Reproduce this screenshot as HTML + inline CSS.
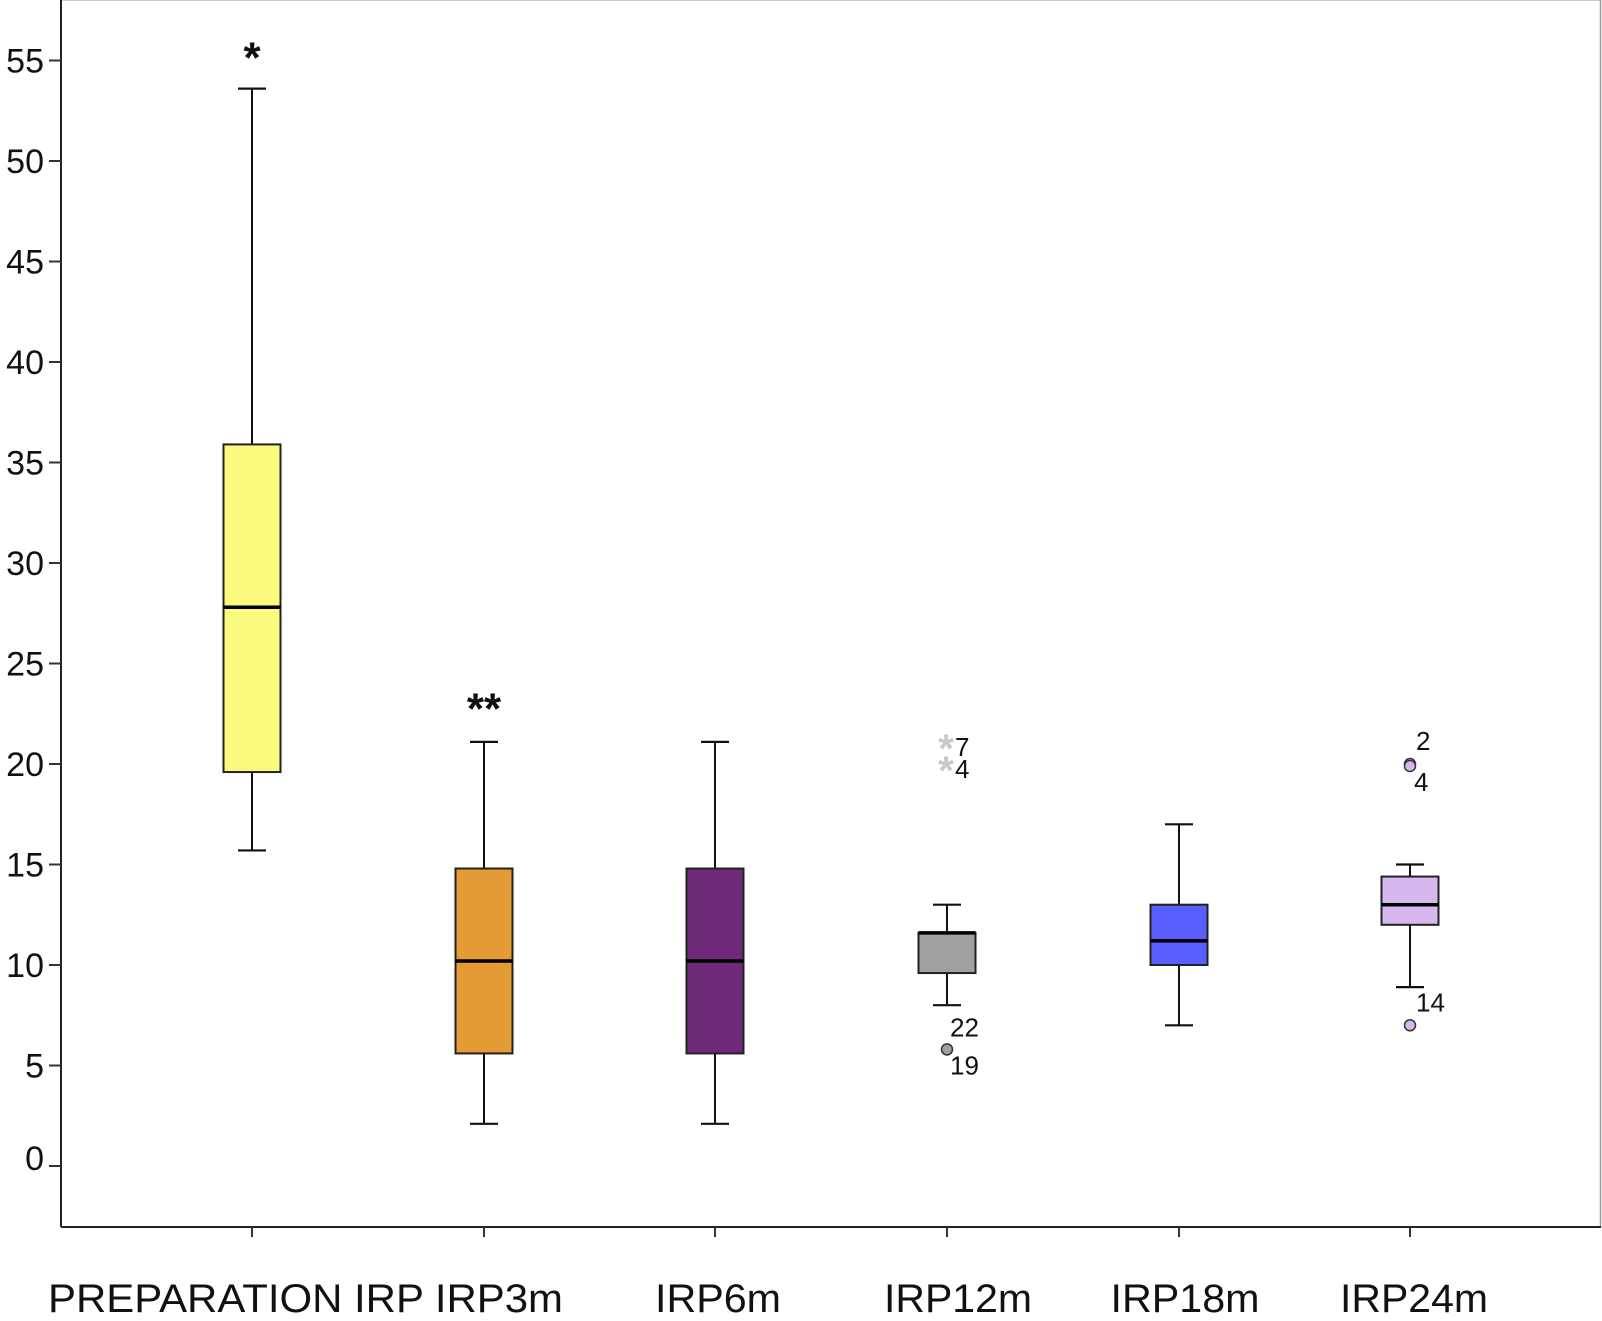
<!DOCTYPE html>
<html><head><meta charset="utf-8"><style>
html,body{margin:0;padding:0;background:#fff;}
svg{display:block;font-family:"Liberation Sans",Arial,sans-serif;}
</style></head><body>
<svg id="chart" width="1602" height="1321" viewBox="0 0 1602 1321" xmlns="http://www.w3.org/2000/svg">
<line x1="61" y1="0.5" x2="1601" y2="0.5" stroke="#ccc" stroke-width="1"/>
<line x1="1600.5" y1="0" x2="1600.5" y2="1227" stroke="#999" stroke-width="1.5"/>
<g id="plot"></g>
</svg>
<script>
const categories = ["PREPARATION IRP","IRP3m","IRP6m","IRP12m","IRP18m","IRP24m"];
const whiskerLow = [15.7, 2.1, 2.1, 8.0, 7.0, 8.9];
const q1Values = [19.6, 5.6, 5.6, 9.6, 10.0, 12.0];
const medianValues = [27.8, 10.2, 10.2, 11.6, 11.2, 13.0];
const q3Values = [35.9, 14.8, 14.8, 11.6, 13.0, 14.4];
const whiskerHigh = [53.6, 21.1, 21.1, 13.0, 17.0, 15.0];
const boxColors = ["#fbf97e","#e49a35","#6e2a78","#a0a0a0","#5a5efe","#d7b8ee"];
const yTicks = [0,5,10,15,20,25,30,35,40,45,50,55];
// outliers
const outlierCat = [3,3,3,5,5,5];
const outlierVal = [20.9,19.8,5.8,20.0,19.9,7.0];
const outlierType = ["star","star","circle","circle","circle","circle"];
const outlierLabel = ["7","4","22|19","2","4","14"];
// significance marks
const sigCat = [0,1];
const sigVal = [55.6,23.2];
const sigText = ["*","**"];

const NS="http://www.w3.org/2000/svg";
const g=document.getElementById('plot');
const X0=61, YB=1227, Y0=1166, PX=20.1;
const catX=[252,484,715,947,1179,1410];
const BW=57;
const y=v=>Y0-v*PX;
const x=i=>catX[i];
function el(tag,attrs,parent){const e=document.createElementNS(NS,tag);for(const k in attrs)e.setAttribute(k,attrs[k]);(parent||g).appendChild(e);return e;}

let a=el('line',{x1:X0,y1:0,x2:X0,y2:YB,stroke:'#222','stroke-width':2});


a=el('line',{x1:X0,y1:YB,x2:1601,y2:YB,stroke:'#222','stroke-width':2});



yTicks.forEach(t=>{
  const tk=el('line',{x1:X0-12,y1:y(t),x2:X0,y2:y(t),stroke:'#333','stroke-width':2});
  
  
  const tx=el('text',{x:X0-17,y:y(t)+(t===0?4:12),'text-anchor':'end','font-size':34,fill:'#111'});
  tx.textContent=t;
  
  
});

categories.forEach((c,i)=>{
  const tk=el('line',{x1:x(i),y1:YB,x2:x(i),y2:YB+10,stroke:'#333','stroke-width':2});
  
  
  const grp=el('g',{});
  
  
  const cx=x(i);
  el('line',{x1:cx,y1:y(whiskerHigh[i]),x2:cx,y2:y(q3Values[i]),stroke:'#111','stroke-width':2},grp);
  el('line',{x1:cx,y1:y(q1Values[i]),x2:cx,y2:y(whiskerLow[i]),stroke:'#111','stroke-width':2},grp);
  el('line',{x1:cx-14,y1:y(whiskerHigh[i]),x2:cx+14,y2:y(whiskerHigh[i]),stroke:'#111','stroke-width':2.2},grp);
  el('line',{x1:cx-14,y1:y(whiskerLow[i]),x2:cx+14,y2:y(whiskerLow[i]),stroke:'#111','stroke-width':2.2},grp);
  el('rect',{x:cx-BW/2,y:y(q3Values[i]),width:BW,height:y(q1Values[i])-y(q3Values[i]),fill:boxColors[i],stroke:'#222','stroke-width':2},grp);
  el('line',{x1:cx-BW/2,y1:y(medianValues[i]),x2:cx+BW/2,y2:y(medianValues[i]),stroke:'#000','stroke-width':3.5},grp);
});

const lab=el('text',{x:48,y:1312,'font-size':40,fill:'#111',textLength:515,lengthAdjust:'spacingAndGlyphs'});
lab.textContent="PREPARATION IRP IRP3m";


const labCenters=[718,958,1185,1414];
const labWidths=[126,148,149,148];
[2,3,4,5].forEach((i,k)=>{
  const t=el('text',{x:labCenters[k]-labWidths[k]/2,y:1312,'font-size':40,fill:'#111',textLength:labWidths[k],lengthAdjust:'spacingAndGlyphs'});
  t.textContent=categories[i];
  
  
});

outlierVal.forEach((v,k)=>{
  const cx=x(outlierCat[k]), cy=y(v);
  if(outlierType[k]==='star'){
    const s=el('text',{x:cx-1,y:cy+16,'text-anchor':'middle','font-size':40,'font-weight':'bold',fill:'#c8c8c8'});
    s.textContent='*';
    
    
    const l=el('text',{x:cx+8,y:cy+10,'font-size':26,fill:'#111'});
    l.textContent=outlierLabel[k];
    
    
  } else {
    const c=el('circle',{cx:cx,cy:cy,r:5.5,fill:boxColors[outlierCat[k]],stroke:'#333','stroke-width':1.5});
    
    
    const parts=outlierLabel[k].split('|');
    if(parts.length===2){
      const a1=el('text',{x:cx+3,y:cy-13,'font-size':26,fill:'#111'});a1.textContent=parts[0];
      
      
      const a2=el('text',{x:cx+3,y:cy+25,'font-size':26,fill:'#111'});a2.textContent=parts[1];
      
      
    } else {
      const l=el('text',{x:cx+(k===4?4:6),y:k===4?cy+25:cy-14,'font-size':26,fill:'#111'});
      l.textContent=parts[0];
      
      
    }
  }
});

sigVal.forEach((v,k)=>{
  const t=el('text',{x:x(sigCat[k]),y:y(v)+24,'text-anchor':'middle','font-size':44,'font-weight':'bold',fill:'#111'});
  t.textContent=sigText[k];
  
  
});
</script>
</body></html>
